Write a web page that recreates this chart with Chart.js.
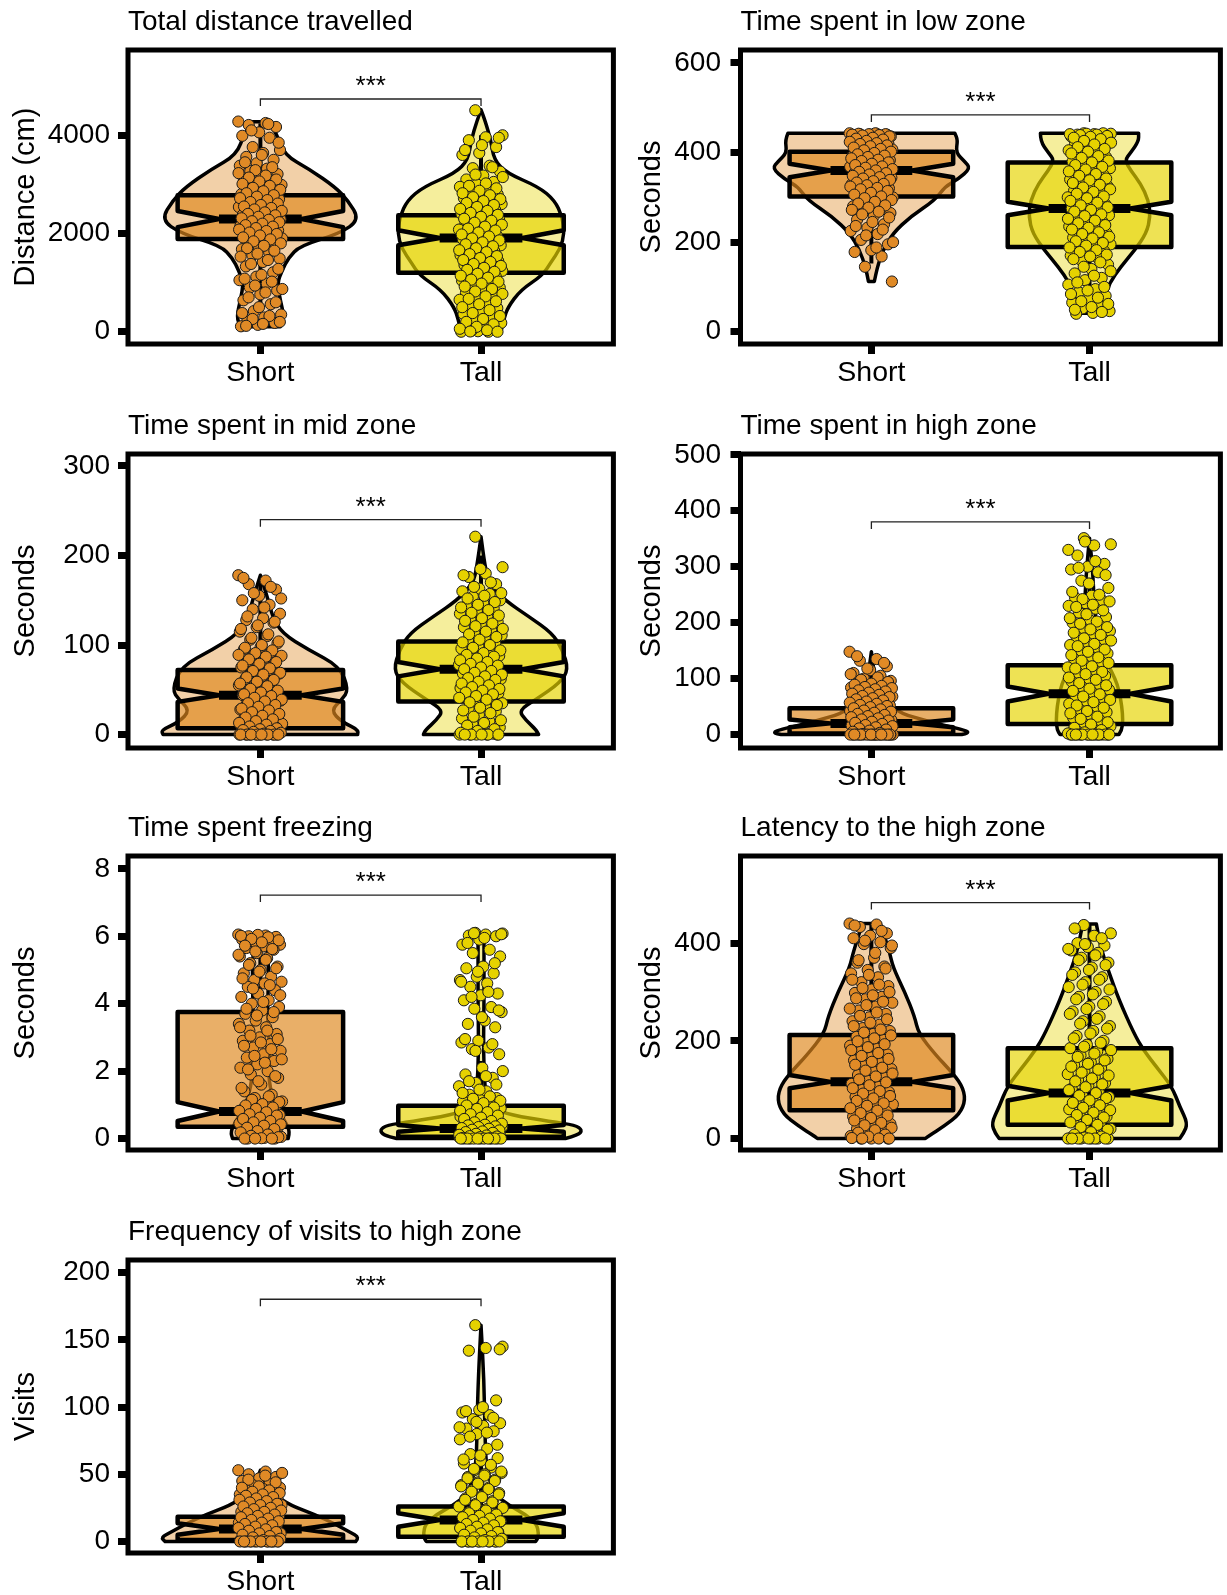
<!DOCTYPE html>
<html>
<head>
<meta charset="utf-8">
<script src="https://cdn.jsdelivr.net/npm/chart.js@4.4.1/dist/chart.umd.min.js"></script>
<style>
  html, body { margin: 0; padding: 0; background: #fff; overflow: hidden; }
  #page { position: relative; width: 1227px; height: 1595px; }
  #page canvas { position: absolute; }
</style>
</head>
<body>
<div id="page"></div>
<script>
var groups = ['Short', 'Tall'];
var titles = ['Total distance travelled', 'Time spent in low zone', 'Time spent in mid zone',
  'Time spent in high zone', 'Time spent freezing', 'Latency to the high zone',
  'Frequency of visits to high zone'];
var yTitles = ['Distance (cm)', 'Seconds', 'Seconds', 'Seconds', 'Seconds', 'Seconds', 'Visits'];
var yTicks = [[0, 2000, 4000], [0, 200, 400, 600], [0, 100, 200, 300], [0, 100, 200, 300, 400, 500],
  [0, 2, 4, 6, 8], [0, 200, 400], [0, 50, 100, 150, 200]];
var yMin = [-250, -27.5, -15, -24, -0.34, -23.5, -8.6];
var yMax = [5737, 629, 313.4, 501.4, 8.38, 578.3, 209.5];
var sigY = [4739, 484, 240, 380, 7.22, 483, 180.3];

// jittered points
var distShort = [4280,4250,4210,4170,4060,3990,3950,3760,3700,3640,3560,3500,3430,3380,3320,3270,3210,3160,3120,3080,3030,2990,2950,2910,2880,2840,2800,2770,2740,2700,2660,2630,2600,2570,2540,2500,2470,2440,2410,2380,2350,2320,2290,2260,2240,2210,2180,2150,2120,2090,2060,2030,2000,1970,1940,1900,1860,1820,1780,1730,1680,1620,1560,1490,1420,1330,1210,1120,1050,980,900,840,760,640,560,420,350,290,230,180,140,110,
  4230,4100,3850,3600,3450,3350,3290,3230,3180,3140,3100,3060,3010,2970,2930,2890,2860,2820,2780,2750,2720,2680,2640,2610,2580,2550,2520,2490,2460,2430,2400,2370,2340,2310,2280,2250,2230,2200,2170,2140,2110,2080,2050,2020,1990,1960,1920,1880,1840,1800,1750,1700,1650,1590,1530,1460,1380,1280,1160,1080,1020,940,870,800,700,600,500,380,320,260,200,160,120];
var distTall = [4510,4000,3960,3900,3760,3640,3600,3380,3330,3260,3180,3100,3050,3000,2950,2900,2850,2800,2760,2720,2680,2640,2600,2560,2520,2480,2440,2400,2360,2320,2280,2240,2200,2160,2120,2080,2040,2000,1960,1920,1880,1840,1800,1760,1720,1680,1640,1600,1560,1520,1480,1440,1400,1360,1320,1280,1240,1200,1160,1120,1080,1040,1000,950,900,850,800,750,700,650,600,540,480,420,360,300,240,180,130,80,40,10,0,0,20,
  3950,3800,3700,3350,3200,3150,3020,2970,2920,2870,2820,2780,2740,2700,2660,2620,2580,2540,2500,2460,2420,2380,2340,2300,2260,2220,2180,2140,2100,2060,2020,1980,1940,1900,1860,1820,1780,1740,1700,1660,1620,1580,1540,1500,1460,1420,1380,1340,1300,1260,1220,1180,1140,1100,1060,1020,980,920,870,820,770,720,670,620,560,500,440,380,320,260,200,150,100,60,30,5,0];
var lowShort = [443,442,441,440,440,439,438,437,436,435,434,432,430,428,425,422,420,418,415,412,410,407,404,401,398,395,392,389,386,383,380,377,374,371,368,365,362,359,356,353,350,347,344,341,338,335,332,329,326,323,320,316,312,308,304,300,296,292,288,284,280,275,270,265,258,250,240,232,225,218,205,195,182,178,168,145,112,
  443,442,441,441,440,439,438,436,433,431,429,426,424,421,419,416,414,411,408,405,402,399,396,393,390,387,384,381,378,375,372,369,366,363,360,357,354,351,348,345,342,339,336,333,330,327,324,321,318,314,310,306,302,298,294,290,286,282,277,272,268,262,255,245,236,228,215,200,188];
var lowTall = [443,442,441,440,440,438,436,434,432,428,424,420,415,410,405,400,395,390,385,380,375,370,365,360,355,350,345,340,335,330,325,320,315,310,305,300,295,290,285,280,275,270,265,260,255,250,245,240,235,230,225,220,215,210,205,200,195,190,185,180,175,170,165,160,150,140,130,120,115,105,95,88,80,72,65,58,52,46,42,40,
  443,442,441,440,439,437,435,433,430,426,422,418,412,408,402,398,392,388,382,378,372,368,362,358,352,348,342,338,332,328,322,318,312,308,302,298,292,288,282,278,272,268,262,258,252,248,242,238,232,228,222,218,212,208,202,198,192,188,182,178,172,168,162,155,145,135,125,110,100,92,84,76,68,62,55,49,44];
var midShort = [178,172,168,162,155,150,145,140,135,130,128,125,120,115,110,106,102,98,95,92,90,88,85,82,80,78,75,72,70,68,65,62,60,58,55,52,50,48,46,44,42,40,38,36,34,32,30,28,26,24,22,20,18,16,14,12,10,9,8,6,5,4,3,2,1,0,0,0,0,0,0,0,0,
  175,165,158,152,142,132,126,122,118,112,108,104,100,97,94,91,89,87,84,81,79,77,74,71,69,67,64,61,59,57,54,51,49,47,45,43,41,39,37,35,33,31,29,27,25,23,21,19,17,15,13,11,9,7,6,5,4,3,2,1,0,0,0,0,0,0,0,0];
var midTall = [221,187,180,176,168,163,160,157,154,150,147,144,141,138,135,132,129,126,123,120,117,114,111,108,105,102,99,96,93,90,88,86,84,82,80,78,76,74,72,70,68,66,64,62,60,58,56,54,52,50,48,46,44,42,40,38,35,32,29,26,22,18,15,12,8,5,3,1,0,0,0,0,0,
  185,178,170,165,158,155,152,148,145,142,139,136,133,130,127,124,121,118,115,112,109,106,103,100,97,94,91,89,87,85,83,81,79,77,75,73,71,69,67,65,63,61,59,57,55,53,51,49,47,45,43,41,39,36,33,30,27,24,20,16,13,10,6,4,2,0,0,0,0,0];
var highShort = [148,135,132,122,115,110,105,100,96,92,90,88,86,84,82,80,78,76,74,72,70,68,66,64,62,60,58,56,54,52,50,48,46,44,42,40,38,36,34,32,30,28,26,24,22,20,18,16,14,12,10,8,6,4,2,0,0,0,0,0,0,0,0,0,0,
  140,128,118,108,102,98,94,91,89,87,85,83,81,79,77,75,73,71,69,67,65,63,61,59,57,55,53,51,49,47,45,43,41,39,37,35,33,31,29,27,25,23,21,19,17,15,13,11,9,7,5,3,1,0,0,0,0,0,0,0,0,0,0,0,0];
var highTall = [351,340,338,320,305,300,295,290,275,262,248,245,240,235,230,225,218,210,205,200,195,190,185,180,175,170,165,160,155,150,145,140,135,130,125,120,115,110,105,100,95,90,85,80,75,70,65,60,55,50,45,40,35,30,25,20,15,10,6,3,0,0,0,0,0,0,0,0,
  345,330,310,298,285,270,255,250,242,238,232,228,222,215,208,202,198,192,188,182,178,172,168,162,158,152,148,142,138,132,128,122,118,112,108,102,98,92,88,82,78,72,68,62,58,52,48,42,38,32,28,22,18,12,8,4,2,0,0,0,0,0,0,0,0,0,0];
var freezeShort = [6.05,6.02,6.0,5.98,5.95,5.9,5.85,5.8,5.75,5.7,5.65,5.6,5.5,5.4,5.35,5.2,5.1,5.0,4.9,4.8,4.7,4.65,4.6,4.5,4.4,4.3,4.2,4.1,4.0,3.9,3.8,3.7,3.6,3.5,3.4,3.3,3.2,3.1,3.0,2.9,2.8,2.7,2.6,2.5,2.4,2.3,2.2,2.1,2.0,1.9,1.8,1.6,1.4,1.3,1.2,1.1,1.05,1.0,0.95,0.9,0.85,0.8,0.75,0.7,0.65,0.6,0.55,0.5,0.45,0.4,0.35,0.3,0.25,0.2,0.15,0.1,0.05,0.02,0,0,
  6.04,6.01,5.97,5.92,5.88,5.82,5.72,5.62,5.55,5.45,5.3,5.15,5.05,4.95,4.75,4.55,4.45,4.25,4.05,3.85,3.75,3.65,3.3,3.2,3.05,2.95,2.85,2.75,2.65,2.45,2.35,2.25,2.05,1.85,1.7,1.5,1.25,1.15,1.08,1.02,0.98,0.92,0.88,0.82,0.78,0.72,0.68,0.62,0.58,0.52,0.48,0.42,0.38,0.32,0.28,0.22,0.18,0.12,0.08,0.04,0.01,0,0,0];
var freezeTall = [6.1,6.08,6.05,6.02,6.0,5.9,5.75,5.6,5.5,5.4,5.1,5.05,4.9,4.8,4.7,4.6,4.5,4.3,4.25,4.1,3.9,3.85,3.75,3.5,3.4,3.3,2.9,2.85,2.7,2.65,2.5,2.1,1.9,1.8,1.65,1.55,1.4,1.3,1.2,1.15,1.1,1.0,0.95,0.9,0.85,0.8,0.75,0.7,0.65,0.6,0.55,0.5,0.45,0.42,0.4,0.38,0.35,0.32,0.3,0.28,0.25,0.22,0.2,0.18,0.15,0.12,0.1,0.08,0.05,0.03,0.02,0,0,0,0,0,
  6.09,6.06,5.95,5.8,5.2,4.95,4.65,4.35,4.2,3.8,3.6,2.95,2.8,2.6,2.0,1.85,1.7,1.6,1.45,1.35,1.25,1.18,1.12,1.05,0.98,0.92,0.88,0.82,0.78,0.72,0.68,0.62,0.58,0.52,0.48,0.44,0.41,0.39,0.36,0.34,0.31,0.29,0.26,0.24,0.21,0.19,0.17,0.14,0.11,0.09,0.07,0.06,0.04,0.02,0.01,0,0,0,0,0,0,0,0];
var latShort = [440,438,433,420,415,410,402,398,390,370,360,352,345,338,330,320,312,305,298,290,285,278,270,262,255,248,240,233,226,220,214,208,202,196,190,184,178,172,166,160,154,148,142,136,130,124,118,112,106,100,95,90,85,80,75,70,65,60,55,50,45,40,35,30,25,20,15,10,5,2,0,0,0,
  436,425,405,395,380,365,348,335,325,315,308,300,293,287,280,273,266,258,251,244,237,230,223,217,211,205,199,193,187,181,175,169,163,157,151,145,139,133,127,121,115,109,103,97,92,87,82,77,72,67,62,57,52,47,42,37,32,27,22,17,12,8,4,1,0,0,0];
var latTall = [437,420,415,400,395,392,385,380,370,360,350,340,330,320,310,300,290,280,270,260,250,240,230,220,210,200,192,185,178,170,163,156,150,144,138,132,126,120,114,108,102,96,90,85,80,75,70,65,60,55,50,45,40,35,30,25,20,15,10,6,3,1,0,0,0,0,
  430,410,398,388,375,365,355,345,335,325,315,305,295,285,275,265,255,245,235,225,215,205,196,188,181,174,167,160,153,147,141,135,129,123,117,111,105,99,93,88,83,78,73,68,63,58,53,48,43,38,33,28,23,18,13,8,4,2,0,0,0,0,0,0];
var visShort = [53,52,50,48,47,45,43,42,40,39,38,37,36,35,34,33,32,31,30,29,28,27,26,25,24,23,22,21,20,19,18,17,16,15,14,13,12,11,10,9,8,7,6,5,4,3,2,1,0,0,0,0,0,0,0,
  51,49,46,44,41,40,38,37,36,35,34,33,32,31,30,29,28,27,26,25,24,23,22,21,20,19,18,17,16,15,14,13,12,11,10,9,8,7,6,5,4,3,2,1,0,0,0,0,0,0,0,0,0,0];
var visTall = [161,145,144,142,105,98,96,94,91,88,86,84,82,80,76,69,65,62,60,58,55,53,51,50,48,46,44,42,40,38,36,34,32,30,28,26,24,22,20,19,18,17,16,15,14,13,12,11,10,9,8,7,6,5,4,3,2,1,0,0,0,0,0,0,
  143,100,97,92,89,85,81,78,72,64,61,57,54,52,49,47,45,43,41,39,37,35,33,31,29,27,25,23,21,20,19,18,17,16,15,14,13,12,11,10,9,8,7,6,5,4,3,2,1,0,0,0,0,0,0,0,0];

// box stats: [lower whisker, q1, median, q3, upper whisker, notch low, notch high]
var distBox = [[560, 1886, 2295, 2778, 4240, 2130, 2460], [0, 1200, 1910, 2370, 4000, 1760, 2065]];
var lowBox = [[152, 302, 360, 402, 443, 345, 375], [41, 189, 275, 378, 443, 260, 290]];
var midBox = [[0, 7, 44, 72, 170, 36.5, 51.5], [0, 37, 73, 104, 200, 65, 81]];
var highBox = [[0, 2, 20, 47, 113, 13, 27], [0, 19, 73, 124, 280, 59, 86]];
var freezeBox = [[0, 0.35, 0.8, 3.75, 6.05, 0.52, 1.08], [0, 0.05, 0.3, 0.97, 2.3, 0.2, 0.4]];
var latBox = [[0, 58, 116, 212, 440, 103, 130], [0, 28, 93, 185, 437, 78, 108]];
var visBox = [[0, 1, 9.2, 18.4, 44, 5, 13.5], [0, 3.5, 16, 26, 59, 11, 21]];

// violin outlines: [value, relative half-width]
var distVioShort = [[4277,0.08],[4050,0.16],[3600,0.24],[3300,0.5],[2950,0.75],[2680,0.88],[2280,1.0],[2000,0.8],[1750,0.4],[1500,0.28],[1250,0.22],[1000,0.17],[650,0.2],[300,0.24],[100,0.2]];
var distVioTall = [[4520,0],[4300,0.04],[3900,0.1],[3500,0.13],[3230,0.26],[2950,0.58],[2680,0.74],[2340,0.82],[2000,0.84],[1700,0.8],[1400,0.7],[1150,0.62],[850,0.4],[500,0.27],[250,0.23],[0,0.2]];
var lowVioShort = [[443,0.85],[428,0.88],[400,0.86],[380,0.95],[365,1.01],[340,0.88],[324,0.75],[294,0.65],[257,0.4],[220,0.22],[182,0.12],[145,0.06],[112,0.03]];
var lowVioTall = [[443,0.5],[425,0.5],[400,0.42],[383,0.36],[360,0.42],[331,0.52],[294,0.6],[257,0.62],[220,0.58],[182,0.46],[145,0.32],[108,0.2],[71,0.15],[41,0.08]];
var midVioShort = [[178,0],[150,0.08],[132,0.12],[113,0.22],[95,0.48],[76,0.8],[50,0.89],[39,0.82],[27,0.71],[14,0.82],[5,1.0],[0,0.98]];
var midVioTall = [[221,0],[188,0.04],[169,0.08],[150,0.24],[132,0.48],[113,0.72],[95,0.82],[73,0.88],[58,0.8],[39,0.55],[27,0.38],[16,0.45],[5,0.56],[0,0.58]];
var highVioShort = [[148,0],[121,0.02],[103,0.04],[74,0.08],[56,0.17],[38,0.3],[25,0.55],[15,0.78],[8,0.95],[3,1.0],[0,0.92]];
var highVioTall = [[351,0],[300,0.03],[229,0.05],[181,0.08],[151,0.12],[121,0.2],[100,0.26],[80,0.3],[50,0.33],[26,0.34],[8,0.33],[0,0.3]];
var freezeVioShort = [[6.05,0.04],[5.5,0.08],[4.5,0.08],[3.5,0.07],[2.5,0.1],[1.7,0.08],[1.0,0.15],[0.5,0.25],[0.2,0.3],[0,0.28]];
var freezeVioTall = [[6.1,0.03],[5,0.03],[4,0.03],[3,0.025],[2,0.03],[1.2,0.05],[0.9,0.12],[0.7,0.3],[0.5,0.7],[0.4,0.95],[0.25,1.02],[0.1,0.98],[0,0.85]];
var latVioShort = [[440,0.09],[386,0.18],[350,0.22],[300,0.34],[250,0.44],[215,0.48],[170,0.66],[140,0.8],[110,0.92],[80,0.96],[50,0.9],[25,0.74],[5,0.58],[0,0.55]];
var latVioTall = [[439,0.07],[386,0.12],[339,0.2],[284,0.3],[216,0.45],[181,0.55],[147,0.68],[106,0.84],[65,0.92],[31,1.0],[11,0.96],[0,0.92]];
var visVioShort = [[53,0],[45,0.04],[40,0.08],[34,0.16],[27,0.3],[20,0.55],[13,0.75],[7,0.9],[3,1.0],[0,0.96]];
var visVioTall = [[161,0],[120,0.03],[80,0.04],[59,0.05],[47,0.08],[35,0.14],[27,0.28],[20,0.45],[13,0.56],[6,0.58],[2,0.57],[0,0.55]];

var points = [[distShort, distTall], [lowShort, lowTall], [midShort, midTall], [highShort, highTall],
  [freezeShort, freezeTall], [latShort, latTall], [visShort, visTall]];
var boxes = [distBox, lowBox, midBox, highBox, freezeBox, latBox, visBox];
var violins = [[distVioShort, distVioTall], [lowVioShort, lowVioTall], [midVioShort, midVioTall],
  [highVioShort, highVioTall], [freezeVioShort, freezeVioTall], [latVioShort, latVioTall], [visVioShort, visVioTall]];

// page layout
var panelCol = [0, 1, 0, 1, 0, 1, 0];
var panelRow = [0, 0, 1, 1, 2, 2, 3];
var rowTop = [50, 454, 856, 1260];
var rowBottom = [344, 748, 1150, 1553];

var pointFill = ['#E08A26', '#E6D200'];
var violinFill = ['rgba(222,135,30,0.39)', 'rgba(230,212,0,0.39)'];
var boxFill = ['rgba(222,135,30,0.67)', 'rgba(230,212,0,0.67)'];
var FONT = "'Liberation Sans', Arial, Helvetica, sans-serif";

Chart.defaults.font.family = FONT;
Chart.defaults.color = '#000';

function smoothSide(ctx, pts, start) {
  if (start) ctx.moveTo(pts[0][0], pts[0][1]); else ctx.lineTo(pts[0][0], pts[0][1]);
  for (var i = 1; i < pts.length - 1; i++) {
    var mx = (pts[i][0] + pts[i + 1][0]) / 2, my = (pts[i][1] + pts[i + 1][1]) / 2;
    ctx.quadraticCurveTo(pts[i][0], pts[i][1], mx, my);
  }
  var last = pts[pts.length - 1];
  ctx.lineTo(last[0], last[1]);
}

var violinBoxPlugin = {
  id: 'violinBox',
  beforeDatasetsDraw: function(chart, args, opts) {
    var ctx = chart.ctx, xs = chart.scales.x, ys = chart.scales.y, a = chart.chartArea;
    var unit = xs.getPixelForValue(2) - xs.getPixelForValue(1);
    ctx.save();
    ctx.beginPath();
    ctx.rect(a.left, a.top, a.right - a.left, a.bottom - a.top);
    ctx.clip();
    ctx.lineJoin = 'round';
    ctx.strokeStyle = '#000';
    for (var g = 0; g < 2; g++) {
      var cx = xs.getPixelForValue(g + 1);
      var left = [], right = [];
      opts.violins[g].forEach(function(r) {
        var y = ys.getPixelForValue(r[0]), w = r[1] * 0.45 * unit;
        left.push([cx - w, y]);
        right.push([cx + w, y]);
      });
      ctx.beginPath();
      smoothSide(ctx, left, true);
      smoothSide(ctx, right.reverse(), false);
      ctx.closePath();
      ctx.fillStyle = violinFill[g];
      ctx.fill();
      ctx.lineWidth = 3.5;
      ctx.stroke();
    }
    for (g = 0; g < 2; g++) {
      cx = xs.getPixelForValue(g + 1);
      var b = opts.boxes[g];
      var hw = 0.375 * unit, nw = hw * 0.5;
      var yLo = ys.getPixelForValue(b[0]), yQ1 = ys.getPixelForValue(b[1]), yMed = ys.getPixelForValue(b[2]),
        yQ3 = ys.getPixelForValue(b[3]), yHi = ys.getPixelForValue(b[4]),
        yNl = ys.getPixelForValue(b[5]), yNh = ys.getPixelForValue(b[6]);
      ctx.lineWidth = 4;
      ctx.beginPath();
      ctx.moveTo(cx, yQ3); ctx.lineTo(cx, yHi);
      ctx.moveTo(cx, yQ1); ctx.lineTo(cx, yLo);
      ctx.stroke();
      ctx.beginPath();
      ctx.moveTo(cx - hw, yQ3); ctx.lineTo(cx + hw, yQ3);
      ctx.lineTo(cx + hw, yNh); ctx.lineTo(cx + nw, yMed); ctx.lineTo(cx + hw, yNl);
      ctx.lineTo(cx + hw, yQ1); ctx.lineTo(cx - hw, yQ1);
      ctx.lineTo(cx - hw, yNl); ctx.lineTo(cx - nw, yMed); ctx.lineTo(cx - hw, yNh);
      ctx.closePath();
      ctx.fillStyle = boxFill[g];
      ctx.fill();
      ctx.lineWidth = 4.5;
      ctx.stroke();
      ctx.lineWidth = 9;
      ctx.beginPath();
      ctx.moveTo(cx - nw, yMed); ctx.lineTo(cx + nw, yMed);
      ctx.stroke();
    }
    ctx.restore();
  },
  afterDraw: function(chart, args, opts) {
    var ctx = chart.ctx, xs = chart.scales.x, ys = chart.scales.y, a = chart.chartArea;
    ctx.save();
    ctx.lineWidth = 5;
    ctx.strokeStyle = '#000';
    ctx.strokeRect(a.left, a.top, a.right - a.left, a.bottom - a.top);
    var x1 = xs.getPixelForValue(1), x2 = xs.getPixelForValue(2), y = ys.getPixelForValue(opts.sig);
    ctx.lineWidth = 1.3;
    ctx.strokeStyle = '#222';
    ctx.beginPath();
    ctx.moveTo(x1, y + 7); ctx.lineTo(x1, y); ctx.lineTo(x2, y); ctx.lineTo(x2, y + 7);
    ctx.stroke();
    ctx.fillStyle = '#000';
    ctx.font = '26px ' + FONT;
    ctx.textAlign = 'center';
    ctx.textBaseline = 'alphabetic';
    ctx.fillText('***', (x1 + x2) / 2, y - 5);
    ctx.restore();
  }
};

function jitter(i, g) {
  return 0.1 * (2 * ((i * 0.618034 + g * 0.37) % 1) - 1);
}

var page = document.getElementById('page');
for (var k = 0; k < 7; k++) {
  (function(k) {
    var c = panelCol[k], r = panelRow[k];
    var cw = c === 0 ? 620 : 614;
    var ch = rowBottom[r] - rowTop[r] + 50 + 42;
    var canvas = document.createElement('canvas');
    canvas.width = cw;
    canvas.height = ch;
    canvas.style.left = (c === 0 ? 0 : 613) + 'px';
    canvas.style.top = (rowTop[r] - 50) + 'px';
    canvas.style.width = cw + 'px';
    canvas.style.height = ch + 'px';
    page.appendChild(canvas);
    var yWidth = c === 0 ? 128 : 127.5;
    var ticksY = yTicks[k];

    var datasets = [0, 1].map(function(g) {
      return {
        label: groups[g],
        data: points[k][g].map(function(v, i) { return { x: g + 1 + jitter(i, g), y: v }; }),
        backgroundColor: pointFill[g],
        borderColor: '#1a1a1a',
        borderWidth: 1,
        pointRadius: 5.6,
        pointHoverRadius: 5.6
      };
    });

    new Chart(canvas, {
      type: 'scatter',
      data: { datasets: datasets },
      plugins: [violinBoxPlugin],
      options: {
        responsive: false,
        animation: false,
        devicePixelRatio: 1,
        events: [],
        layout: { padding: { left: 0, right: c === 0 ? 3.5 : 2.5, top: 0, bottom: 0 } },
        plugins: {
          legend: { display: false },
          tooltip: { enabled: false },
          title: {
            display: true,
            text: titles[k],
            align: 'start',
            fullSize: false,
            color: '#000',
            font: { size: 28, weight: 'normal', lineHeight: 1.2 },
            padding: { top: 5.7, bottom: 10.7 }
          },
          violinBox: { violins: violins[k], boxes: boxes[k], sig: sigY[k] }
        },
        scales: {
          x: {
            type: 'linear',
            min: 0.4,
            max: 2.6,
            afterBuildTicks: function(s) { s.ticks = [{ value: 1 }, { value: 2 }]; },
            afterFit: function(s) { s.height = 42; s.paddingLeft = 0; s.paddingRight = 0; },
            ticks: {
              autoSkip: false, maxRotation: 0, padding: 2,
              font: { size: 28.5 }, color: '#000',
              callback: function(v) { return groups[v - 1]; }
            },
            grid: { drawOnChartArea: false, drawTicks: true, tickLength: 10, tickWidth: 7, tickColor: '#000' },
            border: { display: false }
          },
          y: {
            type: 'linear',
            min: yMin[k],
            max: yMax[k],
            afterBuildTicks: function(s) { s.ticks = ticksY.map(function(v) { return { value: v }; }); },
            afterFit: function(s) { s.width = yWidth; s.paddingTop = 0; s.paddingBottom = 0; },
            ticks: {
              autoSkip: false, padding: c === 0 ? 8 : 9.5,
              font: { size: 28 }, color: '#000',
              callback: function(v) { return String(v); }
            },
            grid: { drawOnChartArea: false, drawTicks: true, tickLength: 10, tickWidth: 7, tickColor: '#000' },
            border: { display: false },
            title: {
              display: true,
              text: yTitles[k],
              color: '#000',
              font: { size: 29, lineHeight: 1.2 },
              padding: { top: c === 0 ? 8.4 : 21.6, bottom: 0 }
            }
          }
        }
      }
    });
  })(k);
}
</script>
</body>
</html>
